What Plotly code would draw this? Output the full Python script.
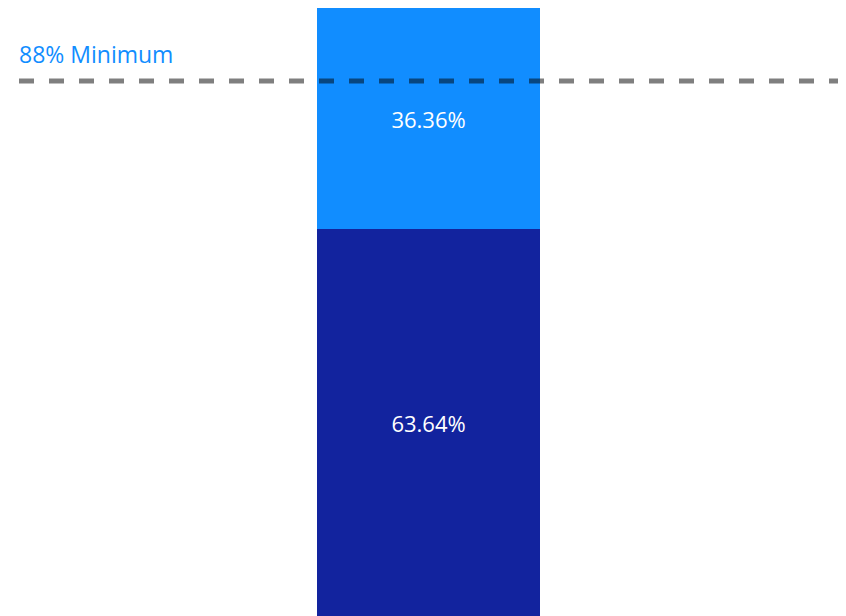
import plotly.graph_objects as go

categories = [""]
series_names = ["Lower", "Upper"]
lower_values = [63.64]
upper_values = [36.36]
minimum_value = 88
minimum_label = "88% Minimum"

FONT = "Open Sans"

fig = go.Figure()
fig.add_trace(go.Bar(
    x=categories, y=lower_values, name=series_names[0],
    marker=dict(color="#12239E", line=dict(width=0)),
    text=[f"{v:.2f}%" for v in lower_values],
    textposition="inside", insidetextanchor="middle",
    textfont=dict(color="white", size=22, family=FONT),
    width=0.2697,
))
fig.add_trace(go.Bar(
    x=categories, y=upper_values, name=series_names[1],
    marker=dict(color="#118DFF", line=dict(width=0)),
    text=[f"{v:.2f}%" for v in upper_values],
    textposition="inside", insidetextanchor="middle",
    textfont=dict(color="white", size=22, family=FONT),
    width=0.2697,
))

fig.add_shape(type="line", xref="paper", yref="y", x0=0, x1=1.02,
              y0=minimum_value, y1=minimum_value,
              line=dict(color="rgba(0,0,0,0.5)", width=5, dash="15px,15px"),
              layer="above")
fig.add_annotation(xref="paper", yref="y", x=0, y=minimum_value,
                   text=minimum_label, showarrow=False,
                   xanchor="left", yanchor="bottom", yshift=9, xshift=-2,
                   font=dict(color="#118DFF", size=23, family=FONT))

fig.update_layout(
    width=846, height=616,
    barmode="stack",
    showlegend=False,
    plot_bgcolor="white", paper_bgcolor="white",
    margin=dict(l=11, r=8, t=0, b=7),
    xaxis=dict(range=[-0.4952, 0.5048], visible=False),
    yaxis=dict(range=[0, 100], visible=False),
    uniformtext=dict(mode=False),
)

fig.write_html("out.html")
